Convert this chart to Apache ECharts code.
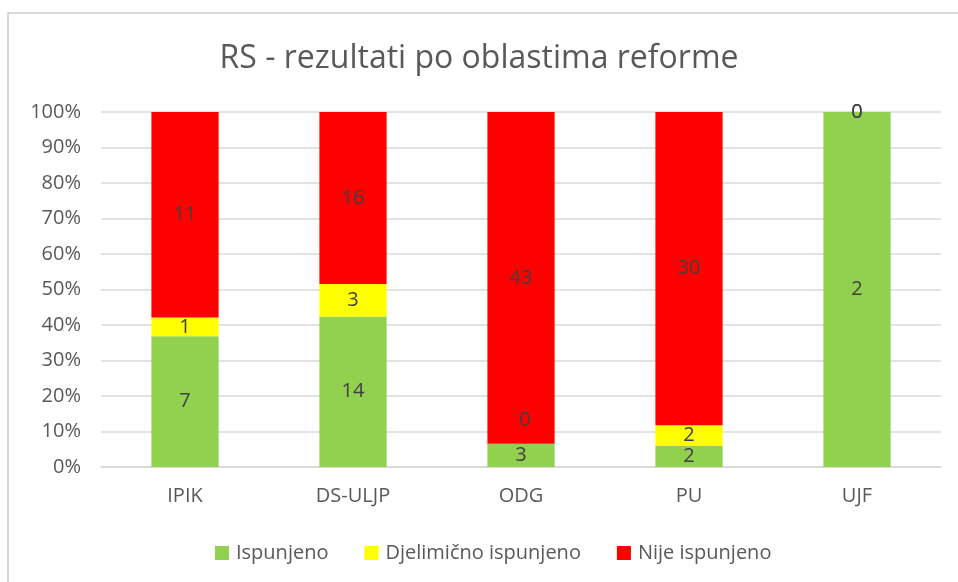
<!DOCTYPE html>
<html>
<head>
<meta charset="utf-8">
<script src="https://cdn.jsdelivr.net/npm/echarts@6/dist/echarts.min.js"></script>
<style>
  html, body { margin: 0; padding: 0; background: #fff; }
  #chart { width: 958px; height: 582px; }
</style>
</head>
<body>
<div id="chart"></div>
<script>
var categories = ["IPIK", "DS-ULJP", "ODG", "PU", "UJF"];
var ispunjeno = [7, 14, 3, 2, 2];
var djelimicno = [1, 3, 0, 2, 0];
var nije = [11, 16, 43, 30, 0];
var yTicks = ["0%", "10%", "20%", "30%", "40%", "50%", "60%", "70%", "80%", "90%", "100%"];

// totals per category, used to turn counts into shares
var totals = categories.map(function (c, i) {
  return ispunjeno[i] + djelimicno[i] + nije[i];
});

function toShare(arr) {
  return arr.map(function (v, i) {
    return { value: v / totals[i] * 100, raw: v };
  });
}

var myChart = echarts.init(document.getElementById("chart"));

var labelStyle = {
  show: true,
  position: "inside",
  color: "#404040",
  fontSize: 20,
  fontFamily: "Open Sans",
  formatter: function (p) { return p.data.raw; }
};

// yellow series: the empty ODG segment gets its label lifted above with a guide line
var djData = toShare(djelimicno);
djData[2].label = { position: "top", distance: 0 };
djData[2].labelLine = { show: true, lineStyle: { color: "#a6a6a6", width: 2 } };

var options = {
  animation: false,
  title: {
    text: "RS - rezultati po oblastima reforme",
    left: "center",
    top: 38,
    textStyle: {
      color: "#595959",
      fontSize: 32,
      fontWeight: "normal",
      fontFamily: "Open Sans"
    }
  },
  graphic: [{
    type: "rect",
    shape: { x: 8, y: 13, width: 980, height: 600 },
    style: { fill: "none", stroke: "#d9d9d9", lineWidth: 2 }
  }],
  legend: {
    left: 210,
    top: 538,
    itemWidth: 14,
    itemHeight: 14,
    itemGap: 36,
    icon: "rect",
    textStyle: { color: "#595959", fontSize: 20, fontFamily: "Open Sans", padding: [0, 0, 0, 2] },
    data: ["Ispunjeno", "Djelimično ispunjeno", "Nije ispunjeno"]
  },
  grid: { left: 101, right: 17, top: 112, bottom: 115 },
  xAxis: {
    type: "category",
    data: categories,
    axisLine: { lineStyle: { color: "#d9d9d9", width: 1.5 } },
    axisTick: { show: false },
    axisLabel: { color: "#595959", fontSize: 20, fontFamily: "Open Sans", margin: 19 }
  },
  yAxis: {
    type: "value",
    min: 0,
    max: 100,
    interval: 10,
    axisLine: { show: false },
    axisTick: { show: false },
    splitLine: { lineStyle: { color: "#d9d9d9", width: 1.5 } },
    axisLabel: {
      color: "#595959",
      fontSize: 20,
      fontFamily: "Open Sans",
      margin: 20,
      formatter: function (v) { return yTicks[Math.round(v / 10)]; }
    }
  },
  series: [
    {
      name: "Ispunjeno",
      type: "bar",
      stack: "total",
      barWidth: "40%",
      itemStyle: { color: "#92D050" },
      label: labelStyle,
      data: toShare(ispunjeno)
    },
    {
      name: "Djelimično ispunjeno",
      type: "bar",
      stack: "total",
      itemStyle: { color: "#FFFF00" },
      label: labelStyle,
      labelLine: { show: true, lineStyle: { color: "#a6a6a6", width: 2 } },
      labelLayout: function (p) {
        if (p.dataIndex === 2) return { dx: 4, dy: -14, draggable: false };
        return {};
      },
      data: djData
    },
    {
      name: "Nije ispunjeno",
      type: "bar",
      stack: "total",
      itemStyle: { color: "#FF0000" },
      label: labelStyle,
      data: toShare(nije)
    }
  ]
};

myChart.setOption(options);
window.addEventListener("resize", function () {
  myChart.resize();
});
</script>
</body>
</html>
